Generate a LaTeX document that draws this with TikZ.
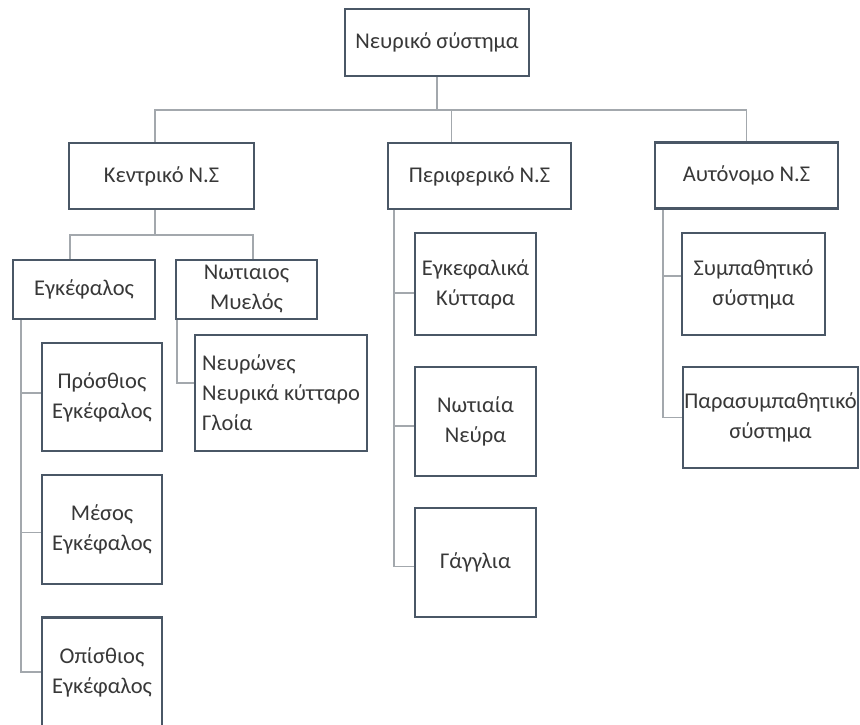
\documentclass[tikz,border=0pt]{standalone}
\usepackage{fontspec}
\setmainfont{Carlito}
\usepackage{tikz}
\usetikzlibrary{calc}
\usepackage{xcolor}
\definecolor{boxline}{HTML}{4A5766}
\definecolor{linkgray}{HTML}{A3A8AD}
\definecolor{txtgray}{HTML}{383838}

\begin{document}
\begin{tikzpicture}[x=1pt, y=-1pt,
  box/.style={draw=boxline, line width=2.8pt, fill=white, text=txtgray,
    align=center, inner sep=1pt, font=\fontsize{22.5}{30}\selectfont},
  link/.style={draw=linkgray, line width=1.6pt}]
  \useasboundingbox (0,0) rectangle (860,724);
  % top
  \node[box, minimum width=184pt, minimum height=67pt] (root) at (437,42.5) {Νευρικό σύστημα};
  % level 1
  \node[box, minimum width=185pt, minimum height=66pt] (kent) at (161.5,176) {Κεντρικό Ν.Σ};
  \node[box, minimum width=183pt, minimum height=66pt] (peri) at (479.5,176) {Περιφερικό Ν.Σ};
  \node[box, minimum width=183pt, minimum height=66pt] (auto) at (746.5,175.5) {Αυτόνομο Ν.Σ};
  % central
  \node[box, minimum width=142pt, minimum height=59pt] (enk) at (84,289.5) {Εγκέφαλος};
  \node[box, minimum width=141pt, minimum height=59pt] (notm) at (246.5,289.5) {Νωτιαιος\\Μυελός};
  \node[box, minimum width=120pt, minimum height=108pt] (pros) at (102,397) {Πρόσθιος\\Εγκέφαλος};
  \node[box, minimum width=120pt, minimum height=109pt] (mesos) at (102,529.5) {Μέσος\\Εγκέφαλος};
  \node[box, minimum width=120pt, minimum height=109pt] (opis) at (102,672) {Οπίσθιος\\Εγκέφαλος};
  \node[box, align=left, minimum width=172pt, minimum height=116pt] (neur) at (281,393) {Νευρώνες\\Νευρικά κύτταρο\\Γλοία};
  % peripheral
  \node[box, minimum width=121pt, minimum height=102pt] (egkk) at (475.5,284) {Εγκεφαλικά\\Κύτταρα};
  \node[box, minimum width=121pt, minimum height=109pt] (notn) at (475.5,421.5) {Νωτιαία\\Νεύρα};
  \node[box, minimum width=121pt, minimum height=109pt] (gagg) at (475.5,562.5) {Γάγγλια};
  % autonomic
  \node[box, minimum width=143pt, minimum height=102pt] (symp) at (753.5,284) {Συμπαθητικό\\σύστημα};
  \node[box, minimum width=175pt, minimum height=101pt] (paras) at (770.5,417.5) {Παρασυμπαθητικό\\σύστημα};
  % links
  \coordinate (bus) at (435,110);
  \draw[link] (root.south) -- (root.south |- bus);
  \draw[link] ([xshift=-6.5pt]kent.north) |- (bus) -| (auto.north);
  \draw[link] ([xshift=-28pt]peri.north) |- (bus);
  \coordinate (kbus) at (155,235);
  \draw[link] ([xshift=-6.5pt]kent.south) -- (kbus);
  \draw[link] ([xshift=-14pt]enk.north) |- (kbus) -| ([xshift=6.5pt]notm.north);
  \draw[link] ([xshift=-63pt]enk.south) |- (opis.west);
  \draw[link] ([yshift=4pt]pros.west) -- ++(-21,0);
  \draw[link] ([yshift=-3pt]mesos.west) -- ++(-21,0);
  \draw[link] ([xshift=-69.5pt]notm.south) |- ([yshift=10pt]neur.west);
  \draw[link] ([xshift=-85.5pt]peri.south) |- ([yshift=-4pt]gagg.west);
  \draw[link] ([yshift=-9pt]egkk.west) -- ++(-21,0);
  \draw[link] ([yshift=-4.5pt]notn.west) -- ++(-21,0);
  \draw[link] ([xshift=-83.5pt]auto.south) |- (paras.west);
  \draw[link] ([yshift=8pt]symp.west) -- ++(-19,0);
\end{tikzpicture}
\end{document}
